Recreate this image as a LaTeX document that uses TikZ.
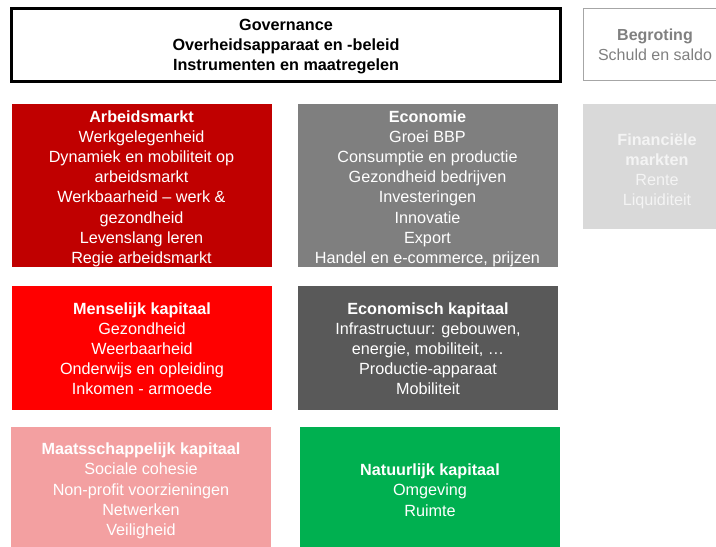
\documentclass[tikz,border=0pt]{standalone}
\usepackage{fontspec}
\setmainfont{Liberation Sans}
\definecolor{arbred}{HTML}{C00000}
\definecolor{menred}{HTML}{FF0000}
\definecolor{ecogray}{HTML}{7F7F7F}
\definecolor{ecokgray}{HTML}{595959}
\definecolor{maatpink}{HTML}{F3A0A1}
\definecolor{natgreen}{HTML}{00B050}
\definecolor{fingray}{HTML}{D9D9D9}
\definecolor{fintext}{HTML}{F4F4F4}
\definecolor{begborder}{HTML}{A6A6A6}
\definecolor{begtext}{HTML}{808080}
\newcommand\mydown[1]{\rule{0pt}{#1}}
\begin{document}
\begin{tikzpicture}[x=1pt,y=-1pt,
  cbox/.style={rectangle, inner sep=0pt, align=center, text=white,
    font=\fontsize{16.2}{20.2}\selectfont},
  cbox2/.style={cbox, minimum width=260pt}]
\useasboundingbox[fill=white] (0,0) rectangle (716,547);
\node[cbox, draw=black, line width=2.2pt, text=black, minimum width=549pt, minimum height=73pt,
  font=\bfseries\fontsize{16.2}{20}\selectfont] (gov) at (286,45)
  {\mydown{13.5pt}Governance\\Overheidsapparaat en -beleid\\Instrumenten en maatregelen};
\node[cbox, draw=begborder, line width=1pt, text=begtext, minimum width=144pt, minimum height=72pt,
  font=\fontsize{16}{19.5}\selectfont] (beg) at (655,44)
  {\mydown{13pt}\textbf{Begroting}\\Schuld en saldo};
\node[cbox, fill=fingray, text=fintext, minimum width=148pt, minimum height=125pt] (fin) at (657,166.5)
  {\mydown{21.5pt}\textbf{Financiële}\\\textbf{markten}\\Rente\\Liquiditeit};
\node[cbox2, fill=arbred, minimum height=163pt] (arb) at (141.5,185.5)
  {\mydown{18pt}\textbf{Arbeidsmarkt}\\Werkgelegenheid\\Dynamiek en mobiliteit op\\arbeidsmarkt\\Werkbaarheid -- werk \&\\gezondheid\\Levenslang leren\\Regie arbeidsmarkt};
\node[cbox2, fill=ecogray, minimum height=163pt] (eco) at (427.5,185.5)
  {\mydown{18pt}\textbf{Economie}\\Groei BBP\\Consumptie en productie\\Gezondheid bedrijven\\Investeringen\\Innovatie\\Export\\Handel en e-commerce, prijzen};
\node[cbox2, fill=menred, minimum height=124pt] (men) at (142,348)
  {\mydown{13pt}\textbf{Menselijk kapitaal}\\Gezondheid\\Weerbaarheid\\Onderwijs en opleiding\\Inkomen - armoede};
\node[cbox2, fill=ecokgray, minimum height=124pt] (ecok) at (428,348)
  {\mydown{13pt}\textbf{Economisch kapitaal}\\Infrastructuur: gebouwen,\\energie, mobiliteit, \dots\\Productie-apparaat\\Mobiliteit};
\node[cbox2, fill=maatpink, minimum height=122pt] (maat) at (141,488)
  {\mydown{17.5pt}\textbf{Maatsschappelijk kapitaal}\\Sociale cohesie\\Non-profit voorzieningen\\Netwerken\\Veiligheid};
\node[cbox2, fill=natgreen, minimum height=122pt] (nat) at (430,488)
  {\mydown{16pt}\textbf{Natuurlijk kapitaal}\\Omgeving\\Ruimte};
\end{tikzpicture}
\end{document}
